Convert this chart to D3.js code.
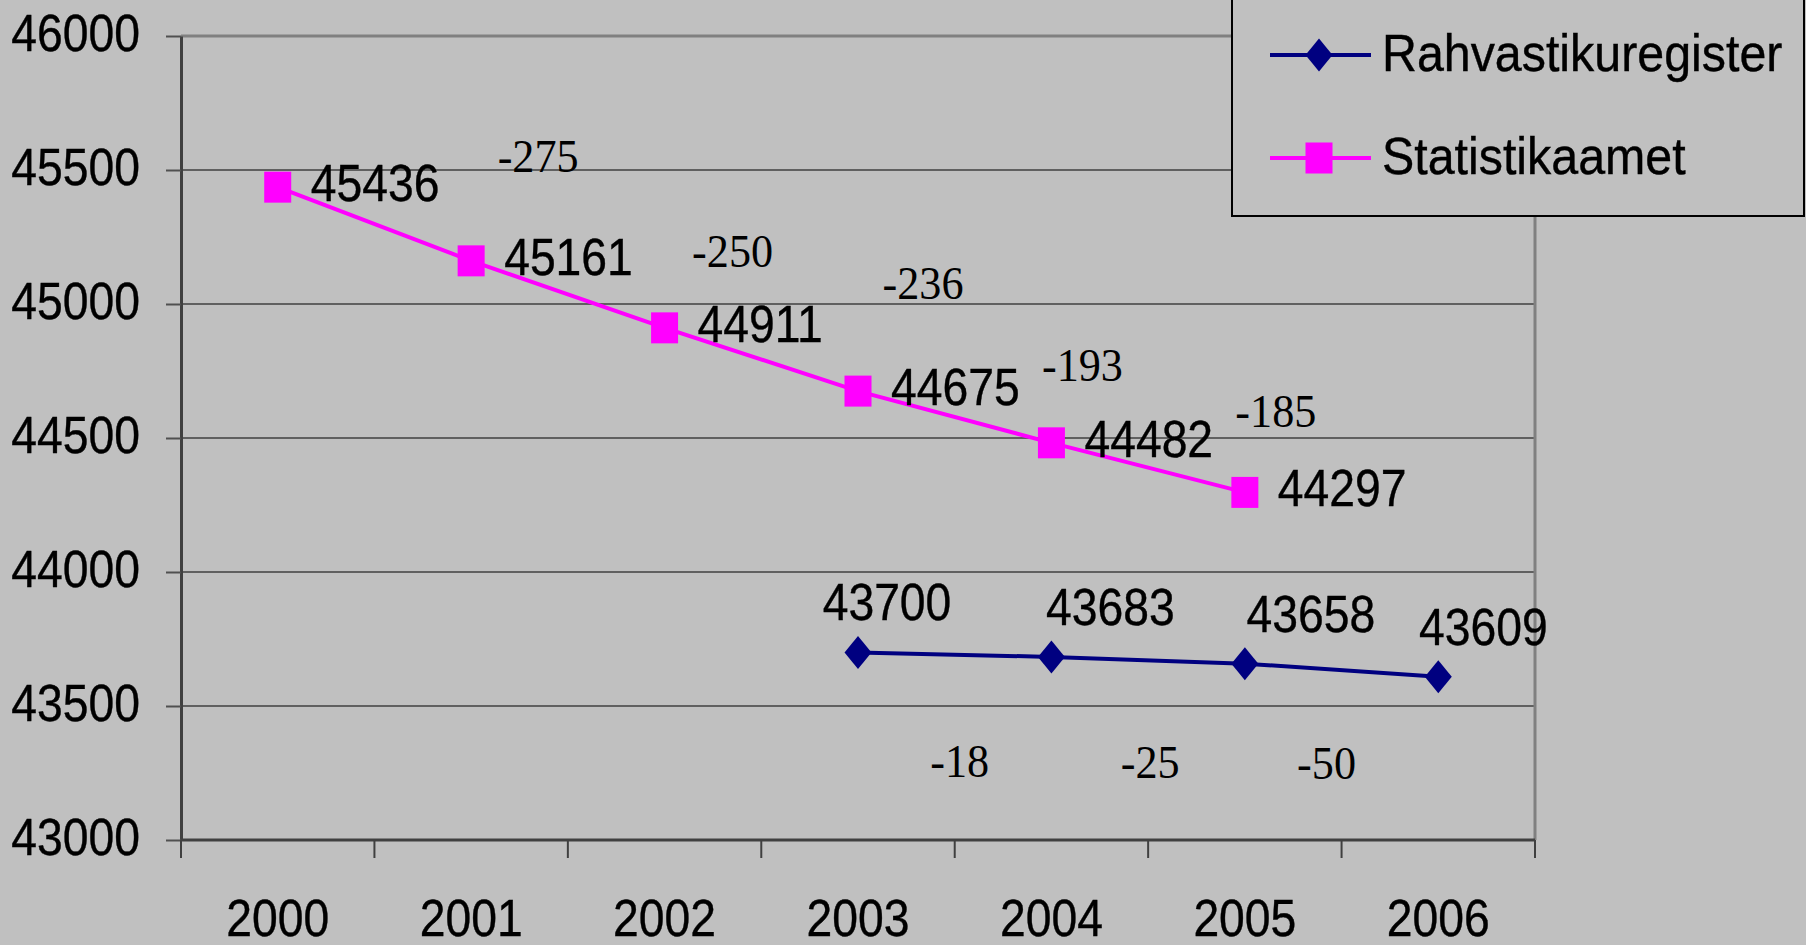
<!DOCTYPE html>
<html>
<head>
<meta charset="utf-8">
<title>Rahvastik 2000-2006</title>
<script src="https://cdn.jsdelivr.net/npm/d3@7"></script>
<style>
    body { margin: 0; background: #c0c0c0; }
    svg { display: block; }
    .grid line { stroke: #606060; stroke-width: 2px; }
    .num { font-family: "Liberation Sans", Arial, sans-serif; font-size: 52px; fill: #000; stroke: #000; stroke-width: 0.4px; }
    .diff { font-family: "Liberation Serif", "Times New Roman", serif; font-size: 47px; fill: #000; }
</style>
</head>
<body>
<script>
// data
const years = ["2000", "2001", "2002", "2003", "2004", "2005", "2006"];
const statYears = ["2000", "2001", "2002", "2003", "2004", "2005"];
const statValues = [45436, 45161, 44911, 44675, 44482, 44297];
const regYears = ["2003", "2004", "2005", "2006"];
const regValues = [43700, 43683, 43658, 43609];
const statDiffs = ["-275", "-250", "-236", "-193", "-185"];
const regDiffs = ["-18", "-25", "-50"];
const yTicks = [43000, 43500, 44000, 44500, 45000, 45500, 46000];
const seriesNames = ["Rahvastikuregister", "Statistikaamet"];

// hand placement of the text boxes (pixel nudges)
const regLabelDx = [-2, 28, 35, 14];
const statDiffNudge = [[67, -15], [68, 6], [65, -29], [31, -10], [31, -16]];
const regDiffNudge = [[5, 125], [2, 121], [-15, 115]];

const W = 1806, H = 945;
const margin = { left: 181, top: 36, right: 271, bottom: 105 };
const sx = 0.89;

const svg = d3.select("body").append("svg")
    .attr("width", W)
    .attr("height", H);

svg.append("rect").attr("width", W).attr("height", H).attr("fill", "#c0c0c0");

const x = d3.scaleBand().domain(years).range([margin.left, W - margin.right]).padding(0);
const y = d3.scaleLinear().domain([43000, 46000]).range([H - margin.bottom, margin.top]);
const cx = d => x(d) + x.bandwidth() / 2;

// gridlines
svg.append("g").attr("class", "grid")
    .selectAll("line").data(yTicks.slice(1, -1)).enter().append("line")
    .attr("x1", margin.left).attr("x2", W - margin.right)
    .attr("y1", d => y(d)).attr("y2", d => y(d));

// top and right frame
svg.append("path")
    .attr("d", "M" + margin.left + "," + y(46000) + "H" + (W - margin.right) + "V" + y(43000))
    .attr("fill", "none").attr("stroke", "#808080").attr("stroke-width", 3);

// y axis
const yAxis = svg.append("g")
    .attr("transform", "translate(" + margin.left + ",0)")
    .call(d3.axisLeft(y).tickValues(yTicks).tickSize(15).tickSizeOuter(0).tickFormat(d3.format("d")));
yAxis.select(".domain").attr("stroke", "#404040").attr("stroke-width", 3);
yAxis.selectAll(".tick line").attr("stroke", "#505050").attr("stroke-width", 2);
yAxis.selectAll(".tick text")
    .attr("class", "num")
    .attr("font-family", null).attr("font-size", null)
    .attr("x", -41 / sx).attr("dy", "0.27em")
    .attr("transform", "scale(" + sx + ",1)");

// x axis: line, boundary ticks, centred labels
const base = y(43000);
svg.append("line")
    .attr("x1", margin.left).attr("x2", W - margin.right)
    .attr("y1", base).attr("y2", base)
    .attr("stroke", "#404040").attr("stroke-width", 3);
const bounds = years.map(d => x(d)).concat([x.range()[1]]);
svg.append("g").selectAll("line").data(bounds).enter().append("line")
    .attr("x1", d => d).attr("x2", d => d)
    .attr("y1", base).attr("y2", base + 18)
    .attr("stroke", "#404040").attr("stroke-width", 2);
svg.append("g").selectAll("text").data(years).enter().append("text")
    .attr("class", "num")
    .attr("text-anchor", "middle")
    .attr("transform", d => "translate(" + cx(d) + "," + (base + 96) + ") scale(" + sx + ",1)")
    .text(d => d);

// lines
const line = d3.line().x(d => cx(d[0])).y(d => y(d[1]));
const stat = statYears.map((d, i) => [d, statValues[i]]);
const reg = regYears.map((d, i) => [d, regValues[i]]);

svg.append("path").datum(stat).attr("d", line)
    .attr("fill", "none").attr("stroke", "#ff00ff").attr("stroke-width", 4);
svg.append("path").datum(reg).attr("d", line)
    .attr("fill", "none").attr("stroke", "#000080").attr("stroke-width", 4);

const square = (w, h) => "M" + (-w / 2) + "," + (-h / 2) + "h" + w + "v" + h + "h" + (-w) + "Z";
const diamond = (w, h) => "M0," + (-h / 2) + "L" + (w / 2) + ",0L0," + (h / 2) + "L" + (-w / 2) + ",0Z";

svg.append("g").selectAll("path").data(stat).enter().append("path")
    .attr("transform", d => "translate(" + cx(d[0]) + "," + y(d[1]) + ")")
    .attr("d", square(27, 31)).attr("fill", "#ff00ff");
svg.append("g").selectAll("path").data(reg).enter().append("path")
    .attr("transform", d => "translate(" + cx(d[0]) + "," + y(d[1]) + ")")
    .attr("d", diamond(27, 33)).attr("fill", "#000080");

// value labels
svg.append("g").selectAll("text").data(stat).enter().append("text")
    .attr("class", "num")
    .attr("transform", d => "translate(" + (cx(d[0]) + 33) + "," + (y(d[1]) + 14) + ") scale(" + sx + ",1)")
    .text(d => d[1]);
svg.append("g").selectAll("text").data(reg).enter().append("text")
    .attr("class", "num")
    .attr("text-anchor", "middle")
    .attr("transform", (d, i) => "translate(" + (cx(d[0]) + 31 + regLabelDx[i]) + "," + (y(d[1]) - 32) + ") scale(" + sx + ",1)")
    .text(d => d[1]);

// difference labels
svg.append("g").selectAll("text").data(statDiffs).enter().append("text")
    .attr("class", "diff")
    .attr("text-anchor", "middle")
    .attr("transform", (d, i) => "translate(" + (cx(statYears[i + 1]) + statDiffNudge[i][0]) + "," +
        (y(statValues[i]) + statDiffNudge[i][1]) + ") scale(0.94,1)")
    .text(d => d);
svg.append("g").selectAll("text").data(regDiffs).enter().append("text")
    .attr("class", "diff")
    .attr("text-anchor", "middle")
    .attr("transform", (d, i) => "translate(" + ((cx(regYears[i]) + cx(regYears[i + 1])) / 2 + regDiffNudge[i][0]) + "," +
        (y(regValues[i]) + regDiffNudge[i][1]) + ") scale(0.94,1)")
    .text(d => d);

// legend
const lg = svg.append("g");
lg.append("rect")
    .attr("x", 1232).attr("y", -2).attr("width", 572).attr("height", 218)
    .attr("fill", "#c0c0c0").attr("stroke", "#000").attr("stroke-width", 2);
const items = lg.selectAll("g.item").data(seriesNames).enter().append("g")
    .attr("class", "item")
    .attr("transform", (d, i) => "translate(1270," + (55 + i * 103) + ")");
items.append("line").attr("x1", 0).attr("x2", 101)
    .attr("stroke", (d, i) => i ? "#ff00ff" : "#000080").attr("stroke-width", 4);
items.append("path")
    .attr("transform", "translate(49,0)")
    .attr("d", (d, i) => i ? square(27, 31) : diamond(27, 33))
    .attr("fill", (d, i) => i ? "#ff00ff" : "#000080");
items.append("text")
    .attr("class", "num")
    .attr("transform", "translate(112,16) scale(0.93,1)")
    .text(d => d);
</script>
</body>
</html>
